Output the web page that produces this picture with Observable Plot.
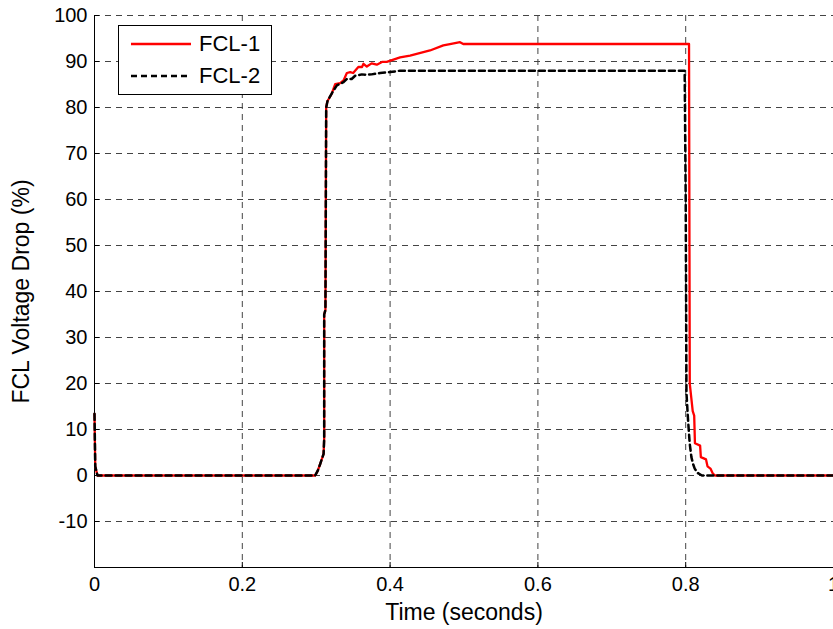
<!DOCTYPE html>
<html><head><meta charset="utf-8">
<script src="https://cdn.jsdelivr.net/npm/d3@7"></script>
<script src="https://cdn.jsdelivr.net/npm/@observablehq/plot@0.6"></script>
<style>
html,body{margin:0;padding:0;background:#fff;overflow:hidden}
#wrap{position:relative;width:833px;height:629px;font-family:Arial,"Liberation Sans",sans-serif}
#legend{position:absolute;left:118px;top:25px;width:154px;height:70px;border:1px solid #000;background:#fff;box-sizing:border-box}
.row{position:absolute;left:12px;height:24px;display:flex;align-items:center;font-size:22px;color:#000;white-space:nowrap}
.row svg{margin-right:8px}
</style></head>
<body><div id="wrap"><div id="chart"></div>
<div id="legend"></div></div>
<script>
const seriesNames = ["FCL-1", "FCL-2"];
const seriesColors = ["#ff0000", "#000000"];
const fcl1Time = [0, 0.001, 0.004, 0.2986, 0.302, 0.3054, 0.310, 0.3108, 0.3108, 0.3125, 0.3135, 0.315, 0.321, 0.3257, 0.3324, 0.337, 0.3415, 0.346, 0.350, 0.357, 0.362, 0.364, 0.3685, 0.375, 0.382, 0.389, 0.3955, 0.4045, 0.4135, 0.427, 0.454, 0.472, 0.481, 0.4946, 0.499, 0.8045, 0.8055, 0.8075, 0.8095, 0.8115, 0.8125, 0.8195, 0.8205, 0.8275, 0.8295, 0.8335, 0.8365, 0.8395, 1.0];
const fcl1Value = [13.4, 2, 0, 0, 1, 2.5, 4.7, 8, 35, 36, 80, 81.3, 83.0, 85.1, 85.3, 85.9, 87.5, 87.7, 87.5, 88.8, 88.8, 89.5, 88.9, 89.6, 89.3, 89.9, 89.9, 90.4, 90.9, 91.3, 92.4, 93.5, 93.8, 94.2, 93.8, 93.8, 20, 17, 14, 13, 7, 6.5, 4, 3.5, 2, 1.5, 0.5, 0, 0];
const fcl2Time = [0, 0.001, 0.004, 0.2986, 0.302, 0.3054, 0.310, 0.3108, 0.3108, 0.3125, 0.3135, 0.3155, 0.3234, 0.328, 0.337, 0.3415, 0.348, 0.3527, 0.3617, 0.3685, 0.375, 0.3865, 0.400, 0.4135, 0.7986, 0.800, 0.801, 0.8032, 0.8054, 0.8077, 0.810, 0.8122, 0.8166, 0.822, 1.0];
const fcl2Value = [13.4, 2, 0, 0, 1, 2.5, 4.7, 8, 35, 36, 80, 81.5, 83.7, 84.8, 85.5, 86.2, 86.2, 86.9, 87.2, 87.1, 87.2, 87.5, 87.7, 88.0, 88.0, 60, 18, 12, 7, 4, 2.5, 1.5, 0.5, 0, 0];
const xTicks = [0, 0.2, 0.4, 0.6, 0.8, 1];
const xTickLabels = ["0", "0.2", "0.4", "0.6", "0.8", "1"];
const yTicks = [-10, 0, 10, 20, 30, 40, 50, 60, 70, 80, 90, 100];
const yTickLabels = ["-10", "0", "10", "20", "30", "40", "50", "60", "70", "80", "90", "100"];
const xLabel = "Time (seconds)";
const yLabel = "FCL Voltage Drop (%)";

const fcl1 = fcl1Time.map((t, i) => ({t, v: fcl1Value[i]}));
const fcl2 = fcl2Time.map((t, i) => ({t, v: fcl2Value[i]}));

const W = 833, H = 629, mL = 94, mT = 15, mR = 0, mB = 62;
const grid = {stroke: "#444", strokeOpacity: 1, strokeWidth: 1, strokeDasharray: "6,5"};

const chart = Plot.plot({
  width: W, height: H,
  marginLeft: mL, marginTop: mT, marginRight: mR, marginBottom: mB,
  style: {fontFamily: "Arial, 'Liberation Sans', sans-serif", fontSize: "20px", color: "#000", background: "#fff", overflow: "visible"},
  x: {domain: [0, 1]},
  y: {domain: [-20, 100]},
  marks: [
    Plot.gridX(xTicks.filter(d => d > 0), grid),
    Plot.gridY(yTicks, grid),
    Plot.ruleX(xTicks, {stroke: "#000", strokeWidth: 1, insetTop: H - mT - mB - 5}),
    Plot.ruleY(yTicks, {stroke: "#000", strokeWidth: 1, insetRight: W - mL - mR - 5}),
    Plot.axisX(xTicks, {tickSize: 0, tickPadding: 9, tickFormat: d => xTickLabels[xTicks.indexOf(d)], fontSize: 20, label: null}),
    Plot.axisY(yTicks, {tickSize: 0, tickPadding: 7, tickFormat: d => yTickLabels[yTicks.indexOf(d)], fontSize: 20, label: null}),
    Plot.axisX([0.5], {tickSize: 0, tickFormat: () => "", fontSize: 23, label: xLabel, labelAnchor: "center", labelOffset: 52, labelArrow: "none"}),
    Plot.axisY([40], {tickSize: 0, tickFormat: () => "", fontSize: 23, label: yLabel, labelAnchor: "center", labelOffset: 82, labelArrow: "none"}),
    Plot.ruleX([0], {stroke: "#000", strokeWidth: 1}),
    Plot.ruleY([-20], {stroke: "#000", strokeWidth: 1}),
    Plot.line(fcl1, {x: "t", y: "v", stroke: seriesColors[0], strokeWidth: 2.3, curve: "linear"}),
    Plot.line(fcl2, {x: "t", y: "v", stroke: seriesColors[1], strokeWidth: 2.5, strokeDasharray: "6,4", curve: "linear"})
  ]
});
document.getElementById("chart").appendChild(chart);

const leg = document.getElementById("legend");
seriesNames.forEach((name, i) => {
  const row = document.createElement("div");
  row.className = "row";
  row.style.top = (6 + i * 32) + "px";
  const dash = i === 1 ? 'stroke-dasharray="6,4"' : '';
  row.innerHTML = `<svg width="60" height="6"><line x1="0" x2="60" y1="3" y2="3" stroke="${seriesColors[i]}" stroke-width="2.5" ${dash}/></svg><span>${name}</span>`;
  leg.appendChild(row);
});
</script></body></html>
